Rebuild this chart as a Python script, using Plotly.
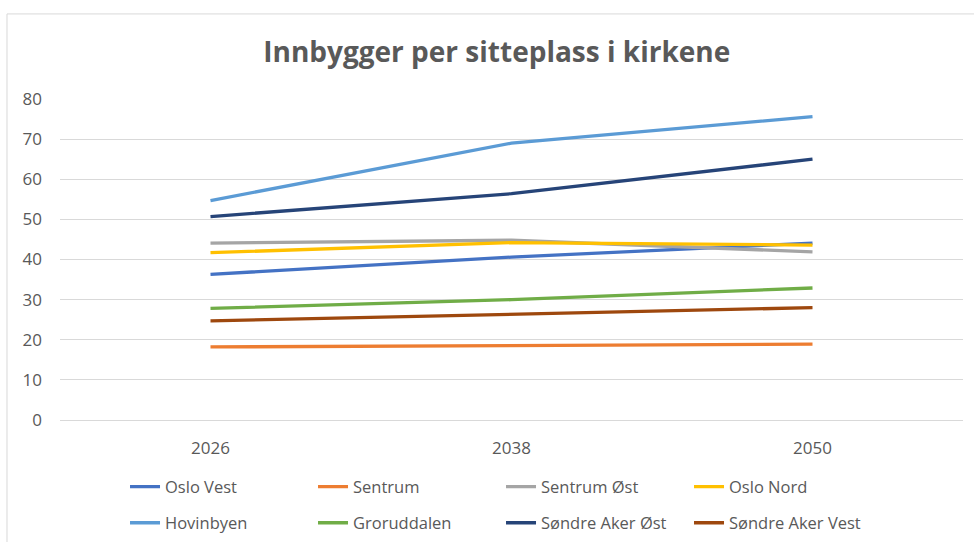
import plotly.graph_objects as go

# Innbygger per sitteplass i kirkene
years = ["2026", "2038", "2050"]

oslo_vest = [36.3, 40.6, 44.1]
sentrum = [18.2, 18.5, 18.9]
sentrum_ost = [44.1, 44.8, 41.9]
oslo_nord = [41.7, 44.2, 43.6]
hovinbyen = [54.7, 69.0, 75.6]
groruddalen = [27.8, 30.0, 32.9]
sondre_aker_ost = [50.7, 56.4, 65.0]
sondre_aker_vest = [24.7, 26.4, 28.0]

series = [
    ("Oslo Vest", oslo_vest, "#4472C4"),
    ("Sentrum", sentrum, "#ED7D31"),
    ("Sentrum Øst", sentrum_ost, "#A5A5A5"),
    ("Oslo Nord", oslo_nord, "#FFC000"),
    ("Hovinbyen", hovinbyen, "#5B9BD5"),
    ("Groruddalen", groruddalen, "#70AD47"),
    ("Søndre Aker Øst", sondre_aker_ost, "#264478"),
    ("Søndre Aker Vest", sondre_aker_vest, "#9E480E"),
]

fig = go.Figure()
for i, (name, vals, col) in enumerate(series):
    # first four in the top legend row, the rest in the second row
    fig.add_trace(go.Scatter(x=years, y=vals, mode="lines", name=name,
                             line=dict(color=col, width=3.3),
                             legend="legend" if i < 4 else "legend2"))

text_col = "#595959"
leg_common = dict(orientation="h", xanchor="left", yanchor="middle",
                  entrywidth=143, entrywidthmode="pixels",
                  font=dict(size=16.5, color=text_col), bgcolor="rgba(0,0,0,0)")
fig.update_layout(
    width=974, height=542,
    paper_bgcolor="white", plot_bgcolor="white",
    margin=dict(l=60, r=11, t=99, b=122, autoexpand=False),
    font=dict(family="Open Sans", color=text_col, size=16),
    title=dict(text="<b>Innbygger per sitteplass i kirkene</b>",
               x=0.51, xanchor="center", y=0.904, yanchor="middle",
               font=dict(size=28, color=text_col)),
    showlegend=True,
    legend=dict(x=0.072, y=-0.2087, **leg_common),
    legend2=dict(x=0.072, y=-0.321, **leg_common),
)
fig.update_xaxes(type="category", range=[-0.5, 2.5], showgrid=False,
                 showline=True, linecolor="#D9D9D9", linewidth=1, automargin=False,
                 ticks="", tickfont=dict(size=17, color=text_col), ticklabelstandoff=13)
fig.update_yaxes(range=[0, 80], dtick=10, showgrid=True, gridcolor="#D9D9D9",
                 gridwidth=1, zeroline=False, showline=False, ticks="", automargin=False,
                 tickfont=dict(size=17, color=text_col), ticklabelstandoff=17)

# thin chart frame like the Excel chart area
fig.add_shape(type="rect", xref="paper", yref="paper",
              x0=-0.0587, x1=1.3, y0=-0.5, y1=1.265,
              line=dict(color="#D9D9D9", width=1), fillcolor="rgba(0,0,0,0)")

# drop the browser's default body margin so the figure sits at the page corner
fig.write_html("out.html", config={"displayModeBar": False},
               post_script="document.body.style.margin='0';")
